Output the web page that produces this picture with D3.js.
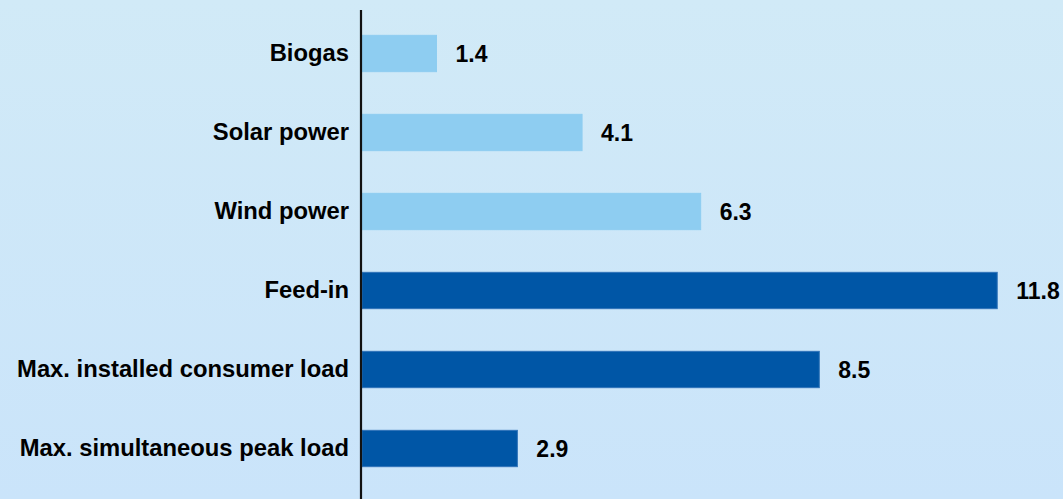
<!DOCTYPE html>
<html>
<head>
<meta charset="utf-8">
<script src="https://cdn.jsdelivr.net/npm/d3@7/dist/d3.min.js"></script>
<style>
  html, body { margin: 0; padding: 0; overflow: hidden; }
  svg { display: block; }
  text { font-family: "Liberation Sans", Arial, sans-serif; font-weight: bold; }
</style>
</head>
<body>
<svg id="chart" width="1063" height="499"></svg>
<script>
// Capacity figures per category
const categories = [
  "Biogas",
  "Solar power",
  "Wind power",
  "Feed-in",
  "Max. installed consumer load",
  "Max. simultaneous peak load"
];
const values = [1.4, 4.1, 6.3, 11.8, 8.5, 2.9];
const groups = ["gen", "gen", "gen", "grid", "grid", "grid"];
const valueLabels = ["1.4", "4.1", "6.3", "11.8", "8.5", "2.9"];

const width = 1063, height = 499;
const svg = d3.select("#chart");

// Background gradient
const defs = svg.append("defs");
const grad = defs.append("linearGradient")
  .attr("id", "bg").attr("x1", 0).attr("y1", 0).attr("x2", 0).attr("y2", 1);
grad.append("stop").attr("offset", "0%").attr("stop-color", "#d1eaf7");
grad.append("stop").attr("offset", "100%").attr("stop-color", "#cae4fa");
svg.append("rect").attr("width", width).attr("height", height).attr("fill", "url(#bg)");

const axisX = 361;
const x = d3.scaleLinear().domain([0, 12]).range([axisX, 1008]);
const y = d3.scaleBand().domain(categories).range([14, 488])
  .paddingInner(0.54).paddingOuter(0.27);

const color = d3.scaleOrdinal().domain(["gen", "grid"]).range(["#8ecdf1", "#0056a6"]);
const stroke = d3.scaleOrdinal().domain(["gen", "grid"]).range(["#8ecdf1", "#2f73b8"]);

const data = categories.map((c, i) => ({ cat: c, v: values[i], g: groups[i], lbl: valueLabels[i] }));

// Bars
svg.append("g").selectAll("rect").data(data).join("rect")
  .attr("x", x(0) + 1)
  .attr("y", d => y(d.cat))
  .attr("width", d => x(d.v) - x(0) - 1)
  .attr("height", y.bandwidth())
  .attr("fill", d => color(d.g))
  .attr("stroke", d => stroke(d.g))
  .attr("stroke-width", 1);

// Value labels
svg.append("g").selectAll("text").data(data).join("text")
  .attr("x", d => x(d.v) + 19)
  .attr("y", d => y(d.cat) + y.bandwidth() / 2)
  .attr("dy", "0.35em")
  .attr("font-size", 23)
  .attr("fill", "#000")
  .text(d => d.lbl);

// Category axis
const yAxis = d3.axisLeft(y).tickSize(0).tickPadding(12);
const ag = svg.append("g").attr("transform", `translate(${axisX},0)`).call(yAxis);
ag.select(".domain").remove();
ag.selectAll("text")
  .attr("font-size", 23.8)
  .attr("fill", "#000")
  .attr("dy", "0.3em")
  .style("font-family", "'Liberation Sans', Arial, sans-serif")
  .style("font-weight", "bold");

// Axis line
svg.append("line")
  .attr("x1", axisX).attr("x2", axisX)
  .attr("y1", 10).attr("y2", height)
  .attr("stroke", "#111").attr("stroke-width", 2.2);
</script>
</body>
</html>
